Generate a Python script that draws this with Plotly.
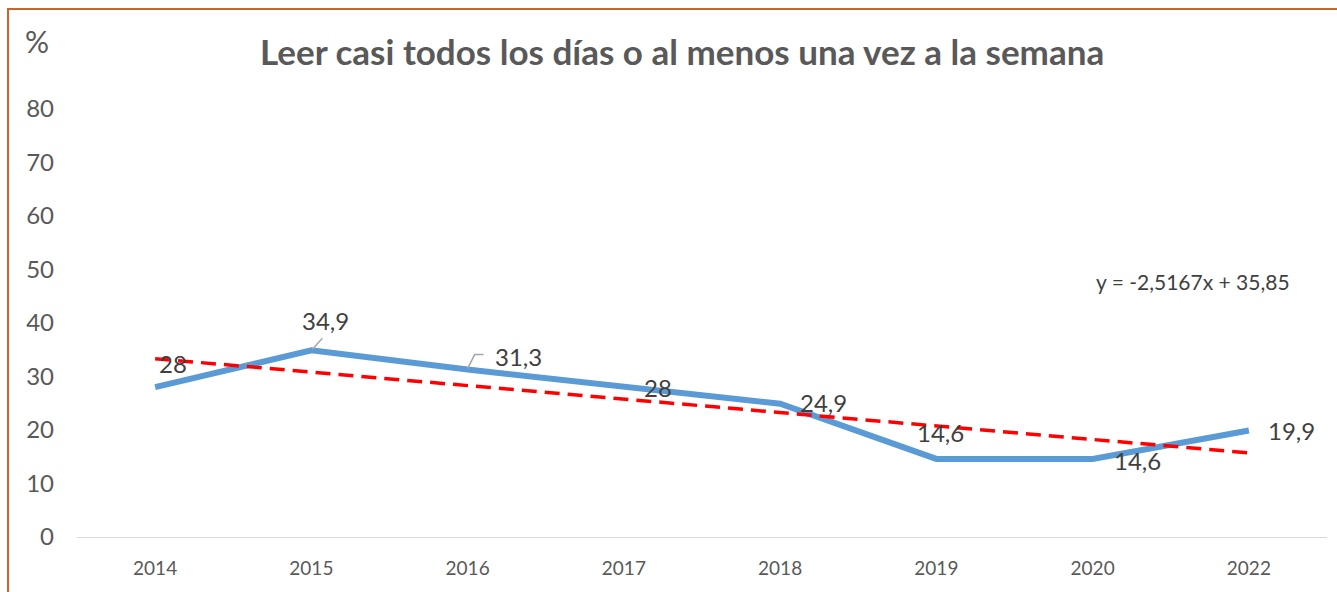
import plotly.graph_objects as go

# Reading frequency series (%)
years = ["2014", "2015", "2016", "2017", "2018", "2019", "2020", "2022"]
values = [28, 34.9, 31.3, 28, 24.9, 14.6, 14.6, 19.9]

# Linear trend coefficients (x = 1..n)
trend_slope = -2.5167
trend_intercept = 35.85

y_ticks = [0, 10, 20, 30, 40, 50, 60, 70, 80]

title_text = "Leer casi todos los días o al menos una vez a la semana"
unit_text = "%"
equation_text = "y = -2,5167x + 35,85"

# Label offsets (pixels) from each point
label_dx = [18, 14, 51, 34, 43, 4, 45, 43]
label_dy = [24, 30, 13, 0, 1, 26, -2, 0]

W, H = 1337, 592
ML, MR, MT, MB = 77, 10, 109, 55
PW, PH = W - ML - MR, H - MT - MB

FONT = "Lato, 'Open Sans', sans-serif"


def fmt(v):
    s = ("%.1f" % v).rstrip("0").rstrip(".")
    return s.replace(".", ",")


def px_x(p):
    return (p - ML) / PW


def px_y(p):
    return (H - MB - p) / PH


trend = [trend_slope * (i + 1) + trend_intercept for i in range(len(years))]

fig = go.Figure()
fig.add_trace(go.Scatter(
    x=years, y=values, mode="lines",
    line=dict(color="#5B9BD5", width=6),
    hoverinfo="skip", showlegend=False,
))
fig.add_trace(go.Scatter(
    x=years, y=trend, mode="lines",
    line=dict(color="#FF0000", width=3.5, dash="15px,8px"),
    hoverinfo="skip", showlegend=False,
))

# On a category axis, annotations/shapes are positioned by category index
annotations = []
for i, (v, dx, dy) in enumerate(zip(values, label_dx, label_dy)):
    annotations.append(dict(
        x=i, y=v, xref="x", yref="y", text=fmt(v), showarrow=False,
        xshift=dx, yshift=dy, xanchor="center", yanchor="middle",
        font=dict(family=FONT, size=24, color="#404040"),
    ))

annotations += [
    dict(x=px_x(682), y=px_y(51), xref="paper", yref="paper", text="<b>" + title_text + "</b>",
         showarrow=False, xanchor="center", yanchor="middle",
         font=dict(family=FONT, size=35, color="#595959")),
    dict(x=px_x(37), y=px_y(41), xref="paper", yref="paper", text=unit_text,
         showarrow=False, xanchor="center", yanchor="middle",
         font=dict(family=FONT, size=30, color="#595959")),
    dict(x=px_x(1193), y=px_y(281), xref="paper", yref="paper", text=equation_text,
         showarrow=False, xanchor="center", yanchor="middle",
         font=dict(family=FONT, size=21, color="#404040")),
]

shapes = [
    # Outer chart frame (left and top edges visible)
    dict(type="rect", xref="paper", yref="paper",
         x0=px_x(8), x1=px_x(1345), y0=px_y(600), y1=px_y(9),
         line=dict(color="#C9642A", width=2), fillcolor="rgba(0,0,0,0)", layer="above"),
    # Leader lines for two labels
    dict(type="path", xref="x", yref="y", xsizemode="pixel", ysizemode="pixel",
         xanchor=1, yanchor=values[1], path="M 1 1 L 11 12",
         line=dict(color="#A6A6A6", width=1.5)),
    dict(type="path", xref="x", yref="y", xsizemode="pixel", ysizemode="pixel",
         xanchor=2, yanchor=values[2], path="M 0 1 L 7 15 L 16 15",
         line=dict(color="#A6A6A6", width=1.5)),
]

fig.update_layout(
    width=W, height=H,
    margin=dict(l=ML, r=MR, t=MT, b=MB),
    paper_bgcolor="white", plot_bgcolor="white",
    annotations=annotations, shapes=shapes,
    xaxis=dict(type="category", range=[-0.5, len(years) - 0.5],
               showgrid=False, zeroline=False, showline=True,
               linecolor="#D9D9D9", linewidth=1.3, ticks="",
               tickfont=dict(family=FONT, size=19, color="#595959"),
               ticklabelstandoff=14),
    yaxis=dict(range=[0, 80], tickvals=y_ticks, showgrid=False, zeroline=False,
               showline=False, ticks="",
               tickfont=dict(family=FONT, size=24, color="#595959"),
               ticklabelstandoff=22),
)

fig.write_html("out.html")
